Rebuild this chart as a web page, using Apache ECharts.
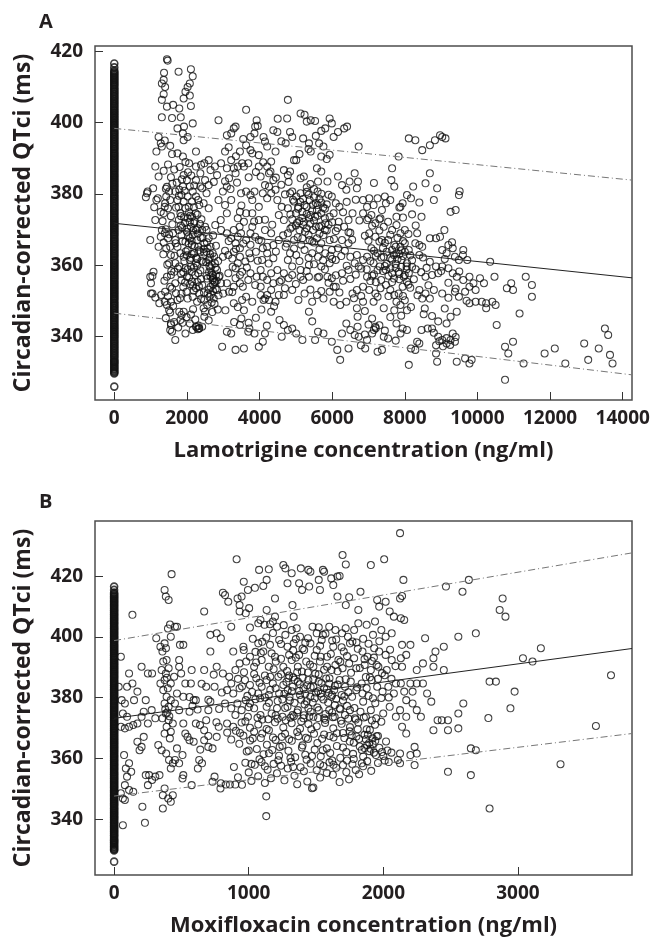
<!DOCTYPE html>
<html>
<head>
<meta charset="utf-8">
<script src="https://cdn.jsdelivr.net/npm/echarts@6/dist/echarts.min.js"></script>
<style>
	html, body { margin: 0; padding: 0; background: #fff; }
	#chart { width: 654px; height: 944px; }
</style>
</head>
<body>
<div id="chart"></div>
<script>
const lamTicks = [0, 2000, 4000, 6000, 8000, 10000, 12000, 14000];
const moxTicks = [0, 1000, 2000, 3000];
const qtTicks = [340, 360, 380, 400, 420];

// placebo (concentration 0) QTci values, same column in both panels
const placeboQtci = [
	326.0, 329.7, 330.0, 330.3, 330.7, 331.0, 331.4, 331.7, 332.1, 332.4, 332.8, 333.0, 333.3, 333.7,
	334.1, 334.5, 334.8, 335.2, 335.5, 335.9, 336.2, 336.6, 336.9, 337.3, 337.6, 338.0, 338.3, 338.7,
	339.0, 339.4, 339.8, 340.1, 340.5, 340.8, 341.2, 341.5, 341.9, 342.2, 342.6, 342.9, 343.3, 343.6,
	344.0, 344.4, 344.7, 345.1, 345.4, 345.8, 346.1, 346.5, 346.8, 347.2, 347.5, 347.9, 348.2, 348.6,
	348.9, 349.3, 349.6, 350.0, 350.4, 350.7, 351.1, 351.4, 351.8, 352.1, 352.5, 352.8, 353.2, 353.5,
	353.9, 354.2, 354.6, 354.9, 355.3, 355.6, 356.0, 356.4, 356.7, 357.1, 357.4, 357.8, 358.1, 358.5,
	358.8, 359.2, 359.5, 359.9, 360.2, 360.6, 360.9, 361.3, 361.6, 362.0, 362.4, 362.7, 363.1, 363.4,
	363.8, 364.1, 364.5, 364.8, 365.2, 365.5, 365.9, 366.2, 366.6, 366.9, 367.3, 367.6, 368.0, 368.4,
	368.7, 369.1, 369.4, 369.8, 370.1, 370.5, 370.8, 371.2, 371.5, 371.9, 372.2, 372.6, 372.9, 373.3,
	373.6, 374.0, 374.4, 374.7, 375.1, 375.4, 375.8, 376.1, 376.5, 376.8, 377.2, 377.5, 377.9, 378.2,
	378.6, 378.9, 379.3, 379.6, 380.0, 380.4, 380.7, 381.1, 381.4, 381.8, 382.1, 382.5, 382.8, 383.2,
	383.5, 383.9, 384.2, 384.6, 384.9, 385.3, 385.6, 386.0, 386.4, 386.7, 387.1, 387.4, 387.8, 388.1,
	388.5, 388.8, 389.2, 389.5, 389.9, 390.2, 390.6, 390.9, 391.3, 391.6, 392.0, 392.4, 392.7, 393.1,
	393.4, 393.8, 394.1, 394.5, 394.8, 395.2, 395.5, 395.9, 396.2, 396.6, 396.9, 397.3, 397.6, 398.0,
	398.4, 398.7, 399.1, 399.4, 399.8, 400.1, 400.5, 400.8, 401.2, 401.5, 401.9, 402.2, 402.6, 402.9,
	403.3, 403.6, 404.0, 404.4, 404.7, 405.1, 405.4, 405.8, 406.1, 406.5, 406.8, 407.2, 407.5, 407.9,
	408.2, 408.6, 408.9, 409.3, 409.6, 410.0, 410.4, 410.7, 411.1, 411.4, 411.8, 412.1, 412.5, 412.8,
	413.2, 413.5, 413.9, 414.2, 414.6, 415.5, 416.6
];

// panel A: [lamotrigine concentration (ng/ml), QTci (ms)]
const lamPoints = [
	[1450,417.8],[1470,417.4],[1370,414],[1360,412],[1310,411],[1400,410],[1360,408],[1310,406.4],[1450,404.5],[1620,405],
	[1310,401.5],[1590,401.3],[1770,414.3],[2110,415],[2160,413],[2080,411],[2020,410],[1960,408.7],[1910,406.8],[1790,404],
	[2080,407.6],[2110,404.7],[2160,399.8],[1830,401.5],[1920,398.9],[1740,398.4],[1890,397],[2020,396],[1910,395.1],[1220,396],
	[1280,394.2],[1390,395],[1310,393.3],[1540,393.5],[1590,391.2],[1740,391.4],[1890,390.5],[1960,389],[2060,388.6],[2250,391.9],
	[1160,391.9],[1130,387.7],[1220,384.9],[1070,381.6],[900,380.2],[870,379.1],[1200,378.8],[1100,376.3],[1130,372.7],[990,367.1],
	[1450,382],[1510,380.7],[1430,379.3],[1540,378.3],[1400,377.4],[1480,376],[1360,374.6],[1560,373.8],[1680,380.7],[1790,381.2],
	[1850,379.7],[1740,378.3],[1910,377.9],[1770,376.4],[1960,376],[1820,374.6],[2020,373.2],[2140,373.6],[2080,372.2],[2200,371.8],
	[2110,370.8],[2250,369.9],[2000,369.4],[2160,368.5],[2080,367.6],[2280,367.1],[1960,366.6],[2140,365.7],[2310,365.2],[2020,364.3],
	[2200,363.4],[2370,363.8],[1910,362.4],[2080,361.5],[2250,360.6],[2420,369.9],[2540,369.9],[2600,367.6],[2480,366.2],[2650,365.2],
	[2540,363.8],[2710,363.4],[2600,361.5],[2770,360.6],[2650,359.2],[2830,358.7],[2710,357.3],[2880,356.8],[2770,355.4],[2940,355],
	[2650,354],[2830,353.1],[2570,352.1],[2740,350.7],[2480,350.3],[2340,352.1],[2250,353.6],[2420,354.5],[2140,355.4],[2000,356.8],
	[1850,355.9],[1680,355],[1540,354],[1400,352.6],[1290,351.7],[1130,351],[1050,352.1],[1010,355],[1050,357],[1450,356.8],
	[1560,357.3],[1650,358.2],[1790,359.7],[1960,359.2],[2140,358.2],[2310,357.8],[1850,352.1],[2020,350.7],[2160,351.2],[2280,349.8],
	[1740,350.3],[1560,349.8],[1450,348.9],[1620,348.6],[1790,347],[1850,346.1],[1820,344.7],[1560,343.7],[1540,341.9],[1680,339.1],
	[1960,340.9],[2080,343.7],[2160,341.9],[2250,342.8],[2340,342.3],[2420,342.8],[2480,345.6],[2460,348],[2500,347],[2170,347.7],
	[2480,388.6],[2370,385.8],[2500,383.9],[2600,382.5],[2420,381.6],[2540,380.2],[2310,378.3],[2460,377.4],[2600,376],[2770,387.7],
	[2830,385.3],[2740,383.4],[2940,388.6],[2870,400.7],[3100,396.5],[3220,397],[3290,398.4],[3050,391.9],[3220,389.5],[3100,387.2],
	[3290,387.2],[3340,385.8],[3160,384.4],[3100,382.1],[2990,380.7],[2870,378.3],[3050,376.9],[3220,378.3],[3100,374.6],[2930,372.7],
	[2780,371.3],[2940,369.9],[3100,369],[3290,369.9],[3220,367.6],[3400,368],[3340,366.2],[3460,364.8],[3290,363.8],[3140,362.9],
	[2990,362.4],[3460,362.4],[3400,360.6],[3260,359.6],[3340,359.2],[3140,357.8],[3460,357.3],[3520,358.2],[3100,355],[3290,354],
	[3460,355],[3160,352.6],[3000,352.1],[3340,356.4],[3540,354],[3060,347.4],[3290,349.4],[3400,348.3],[3570,347.4],[3460,343.3],
	[3220,340.9],[3100,341.4],[2970,337.2],[3340,336.3],[3570,336.7],[3690,341.4],[3720,342.3],[3490,380.2],[3630,380.7],[3750,379.7],
	[3570,387.7],[3690,388.6],[3520,388.6],[3400,387.7],[3340,398.9],[3460,391.9],[3630,393.7],[3750,396],[3630,403.6],[3860,397],
	[3920,400.7],[3880,398.9],[3800,391.4],[3980,390.9],[3980,387.7],[3860,380.7],[3800,378.3],[3980,376.4],[3800,374.6],[3980,372.7],
	[3750,369],[3880,368],[3630,367.1],[3490,369],[4030,384.9],[4150,382.5],[4090,380.2],[4210,378.8],[4320,380.2],[4260,382.1],
	[4380,383.9],[4210,387.7],[4320,389.1],[4260,385.8],[4440,381.2],[4110,396],[4380,397.9],[4490,397.4],[4210,393.3],[4440,391.9],
	[4780,406.4],[4760,401.2],[4840,397.4],[4900,396],[4720,394.2],[4950,389.5],[4840,386.3],[4670,386.7],[4780,385.3],[5130,402.6],
	[5240,402.2],[5300,400.3],[5410,400.7],[5530,400.5],[5010,389.5],[5130,384.4],[5220,384.9],[5360,394.2],[5410,391.9],[5640,394.2],
	[5760,393.3],[5700,390.5],[5930,401.2],[5990,399.8],[5810,398.4],[5930,391],[6040,396],[6160,397.4],[6330,398.4],[6410,398.9],
	[5580,387.2],[5700,386.3],[5610,383.5],[5870,383.5],[5990,379.3],[6100,377.4],[6160,384.9],[4490,378.3],[4610,376.4],[4530,374.1],
	[4670,372.7],[4780,376],[4840,380.2],[4900,380.7],[5010,379.3],[5130,380.2],[4950,377.9],[5070,376.4],[5180,375],[5300,376.4],
	[5380,378.3],[5470,376.9],[5580,375.5],[5700,374.6],[5530,373.6],[5360,373.2],[5220,372.2],[5030,371.9],[4900,370.8],[5100,369.9],
	[5300,370.4],[5470,369.9],[5640,370.8],[5810,371.8],[5930,373.6],[6040,374.6],[6180,372.2],[6330,370.8],[6450,372.7],[6560,374.6],
	[4780,369],[4950,367.1],[5180,367.6],[5380,367.1],[5580,367.6],[5760,368.5],[5930,367.1],[5700,366.2],[4720,365.2],[4840,363.4],
	[5010,362.9],[5240,364.3],[5450,363.4],[5610,362.4],[5810,363.4],[5990,364.3],[6160,364.8],[6270,367.1],[6450,366.2],[6100,361.5],
	[5930,360.6],[5700,359.7],[5360,360.1],[5130,358.7],[4900,359.7],[4780,361.5],[4670,357.8],[4490,358.7],[4320,357.8],[4210,355.9],
	[4380,355],[4550,355.4],[4090,356.8],[3920,356.8],[4030,354],[4210,351.7],[4030,351.7],[4260,350.3],[4440,349.8],[4150,350.7],
	[4320,353.1],[4530,351.7],[4670,351.7],[4900,353.1],[5070,350.3],[5240,352.1],[5450,349.8],[5580,351.7],[5760,350.7],[5930,352.6],
	[6100,354],[6040,349.8],[6220,348.9],[6390,349.8],[6560,352.1],[6680,353.1],[5130,356.8],[5360,356.8],[5640,356.8],[5870,356.8],
	[5990,356.4],[6040,354],[6270,357.8],[6450,358.7],[6620,360.6],[6730,359.7],[6500,362.4],[6680,362.9],[6850,361.5],[6960,362.4],
	[4320,347],[4550,344.7],[4670,343.3],[4780,341.9],[4610,340],[4900,342.3],[5010,340.9],[5180,339.1],[5360,347],[5450,344.3],
	[5610,341.4],[5760,340.9],[5530,339.1],[5990,338.6],[6140,336.3],[6220,333.5],[6390,343.7],[6500,341.9],[6270,340.9],[6620,340.5],
	[6450,336.7],[6730,340],[6790,337.6],[6910,336.7],[6960,339.1],[7100,340.9],[7190,342.8],[7250,335.8],[7370,336.3],[7420,340],
	[7540,339.5],[4090,338.6],[3980,337.2],[4150,340.9],[3860,340.9],[6270,382.5],[6390,381.2],[6480,383.5],[6680,381.6],[6710,383.5],
	[6620,385.8],[6730,393.3],[6850,378.3],[7020,378.8],[6960,376.4],[7140,376.9],[7250,378.8],[7370,375.5],[7480,377.4],[7600,378.3],
	[7630,383.9],[7710,382.1],[7770,373.6],[7880,376.4],[7940,377.4],[7830,390.5],[8060,379.7],[8170,378.8],[8110,395.6],[8230,382.1],
	[6850,374.6],[6960,372.7],[7080,374.1],[7190,371.8],[7330,373.2],[7420,370.8],[7540,372.2],[7650,369.9],[7770,371.3],[7880,369],
	[8000,369.9],[7020,369],[7190,368],[7370,367.1],[7540,367.1],[7710,365.7],[7880,365.2],[8000,366.2],[8110,364.3],[7080,364.8],
	[7250,363.4],[7420,362.4],[7600,362],[7770,363.4],[7910,361.5],[8060,360.6],[7140,360.6],[7310,359.7],[7480,358.7],[7650,357.8],
	[7830,358.2],[7970,356.8],[8110,357.8],[6960,356.8],[6850,354],[7020,353.1],[7190,352.1],[7330,353.6],[7480,354.5],[7600,353.1],
	[7710,351.7],[7830,352.1],[7940,354],[8060,355.4],[7770,349.8],[7880,348.9],[8060,347.4],[8170,348.3],[7710,347.4],[7420,348],
	[7140,349.8],[6850,349.8],[6680,348],[7770,343.7],[7940,342.3],[7880,340.9],[8060,341.9],[8170,336.7],[8110,332.1],[8290,336.3],
	[8400,338.1],[8460,341.9],[8340,338.6],[8290,395.1],[8480,392.3],[8690,393.7],[8830,395.1],[9030,396],[9120,395.6],[8970,396.5],
	[8570,383],[8690,385.8],[8800,378.3],[8890,381.6],[9260,375],[9400,375.5],[9490,379.7],[9510,380.8],[8460,373.6],[8340,369],
	[8290,366.2],[8400,362.9],[8480,365.2],[8690,367.6],[8860,367.6],[8970,368],[9090,369.9],[9030,364.3],[9150,363.4],[9200,365.7],
	[9320,364.8],[9380,362.4],[9490,361.5],[9610,364.3],[9720,361.5],[8690,361],[8860,359.7],[9030,359.7],[8920,357.8],[8750,357.3],
	[8570,356.8],[9200,359.2],[9320,357.8],[9430,356.8],[9610,355.9],[9780,356.8],[9890,355],[10070,356.4],[10180,355],[10350,361],
	[10470,356.8],[9780,354],[9950,353.1],[9660,352.6],[9490,351.2],[9380,352.6],[8800,353.1],[9030,352.1],[8690,350.7],[8570,352.1],
	[8400,353.1],[8480,350.7],[9780,349.4],[9950,349.8],[10120,349.8],[10240,349.4],[10410,349.8],[10500,348.9],[10240,348],[9430,347],
	[8520,346.3],[8750,345.8],[9150,343.7],[8630,342.3],[8750,342.3],[8920,340],[8860,337.6],[9030,339.1],[9150,338.1],[9260,339.1],
	[9380,338.6],[9320,340.9],[8860,335.3],[8890,333],[9430,333],[9660,333.9],[9780,332.5],[9840,333.5],[8920,344.3],[9260,345.6],
	[10810,353.6],[10930,355],[10980,353.1],[11160,346.5],[11330,356.8],[11500,354.5],[11500,351.2],[10530,343.3],[10760,337.2],[10850,335.3],
	[10980,338.6],[10760,327.9],[11270,332.5],[11850,335.3],[12130,336.7],[12420,332.5],[12940,338.1],[13050,333.5],[13340,336.7],[13510,342.3],
	[13600,340.5],[13650,334.9],[13720,332.5],[990,356.8],[1080,358.2],[1010,352.1],[1240,349.4],[1390,349.8],[1510,347.4],[1560,343.3],
	[1590,341.4],[1910,347],[1310,369.9],[1280,368],[1390,369],[1480,367.6],[1360,366.4],[1220,365.2],[1430,364.8],[1540,365.2],
	[1680,367.1],[1620,369],[1770,369.9],[1850,368.5],[1740,365.2],[1560,362.9],[1510,360.6],[1680,360.6],[1820,363.4],[1390,376.4],
	[1280,375],[1160,378.3],[920,380.7],[3690,355.9],[3880,354.5],[3750,357.8],[4030,358.7],[4070,361.5],[4210,363.4],[4380,362],
	[4210,365.2],[4380,365.7],[4530,367.1],[4320,369],[4150,369.9],[3980,367.1],[4090,364.8],[3900,363.8],[3750,362],[3610,361.1],
	[3720,363.4],[3800,370.8],[3570,372.2],[3400,373.2],[3460,375],[3630,374.6],[4110,350.3],[3800,349.8],[3630,351.2],[3520,350.3],
	[2250,383.9],[2370,382.1],[2160,380.7],[2250,379.3],[2340,376.9],[2140,377.9],[2050,376.4],[2020,379.3],[2080,382.1],[2000,383.9],
	[1910,385.3],[1890,382.1],[2250,387.7],[2390,388.2],[2650,386.7],[2600,389.5],
	[1330,372.4],[1420,370.1],[1510,368.7],[1600,371.5],[1690,366.2],[1780,372.8],[1870,370.6],[1950,371.9],[2040,368.1],[2130,366.9],
	[2210,372.3],[2290,370.4],[2380,367.8],[2460,364.6],[2550,366.5],[2630,362.2],[2720,368.4],[2800,365.5],[1350,363.1],[1460,360.2],
	[1570,358.4],[1660,362.7],[1750,359.1],[1840,357.6],[1930,361.2],[2020,358.9],[2110,362.1],[2190,359.4],[2280,361.8],[2370,358.6],
	[2450,360.9],[2540,357.1],[2620,359.8],[2710,355.9],[2790,353.4],[2870,351.6],[1380,355.7],[1480,351.3],[1590,353.5],[1700,352.2],
	[1810,350.8],[1900,353.9],[1990,352.6],[2090,354.7],[2190,352.9],[2290,355.3],[2390,350.6],[2470,352.4],[2560,348.9],[2660,351.8],
	[2760,349.2],[2850,347.6],[1420,345.2],[1540,346.8],[1650,344.1],[1760,342.6],[1880,343.9],[1990,345.5],[2110,346.2],[2230,344.8],
	[2320,343.1],[2600,344.6],[2700,346.9],[2330,342.4],[2300,342.1],[2270,342.8],
	[1360,386.5],[1480,388.3],[1560,384.7],[1650,386.9],[1720,383.2],[1800,387.6],[1860,384.1],[1940,380.9],[2030,386.1],[2120,385.2],
	[2200,382.4],[1420,381.5],[1600,382.9],[1780,379.5],[1700,376.2],[1840,373.8],[2060,374.9],[2190,376.3],[2290,374.2],[2400,372.9],
	[3050,364.1],[3150,366.8],[3250,361.9],[3350,364.6],[3450,370.8],[3550,366.1],[3650,359.4],[3750,365.8],[3850,372.3],[3950,361.3],
	[4050,366.9],[4150,372.8],[4250,360.5],[4350,371.4],[4450,363.9],[3050,383.6],[3200,381.4],[3380,383.2],[3500,376.8],[3700,384.7],
	[3900,386.2],[4100,388.9],[4300,386.3],[4450,384.6],[3150,393.1],[3350,390.6],[3550,395.4],[3750,392.3],[3950,399.1],[4150,394.7],
	[4600,382.6],[4700,379.9],[4800,383.4],[4900,372.9],[5000,374.6],[5100,372.4],[5200,378.6],[5300,381.9],[5400,374.1],[5500,379.1],
	[5600,380.7],[5700,377.6],[5800,375.9],[5900,379.8],[6000,372.1],[6100,369.6],[6200,376.4],[6300,374.9],[6400,377.8],[6500,369.1],
	[4650,368.4],[4750,366.1],[4850,370.3],[4950,364.7],[5050,367.9],[5150,365.8],[5250,369.4],[5350,362.1],[5450,366.7],[5550,370.9],
	[5650,364.5],[5750,361.4],[5850,369.8],[5950,362.7],[6050,367.4],[6150,370.5],[6250,362.6],[6350,364.1],[6450,369.3],[6550,367.2],
	[4600,355.8],[4700,353.6],[4800,356.4],[4900,357.3],[5000,354.8],[5100,361.2],[5200,355.9],[5300,358.4],[5400,353.2],[5500,360.3],
	[5600,356.6],[5700,352.8],[5800,358.9],[5900,355.1],[6000,361.8],[6100,357.2],[6200,352.4],[6300,355.7],[6400,359.9],[6500,356.2],
	[6600,350.8],[6700,345.6],[6800,351.4],[6900,347.2],[6700,342.8],
	[5200,395.6],[5350,392.6],[5550,396.3],[5700,397.7],[5850,389.8],[5100,391.2],[4600,394.8],[4500,401.1],
	[6650,378.4],[6750,372.6],[6900,368.3],[7000,366.9],[7100,371.1],[7200,362.7],[7300,369.8],[7400,364.9],[7500,360.4],[7600,368.6],
	[7700,362.9],[7800,367.7],[7900,359.6],[8000,363.8],[8100,368.8],[8200,361.4],[8300,358.9],[8400,365.7],[8500,362.2],[8600,359.3],
	[6650,357.4],[6800,359.1],[6950,358.9],[7050,355.6],[7150,357.5],[7250,351.2],[7350,355.9],[7450,359.8],[7550,351.4],[7650,355.3],
	[7750,359.3],[7850,356.1],[7950,351.4],[8050,358.9],[8150,353.7],[8250,356.1],[8350,351.6],[8450,358.1],[8550,347.9],[8650,354.4],
	[7300,343.2],[7450,341.7],[7600,345.5],[7750,338.9],[7900,345.9],[8000,350.2],[7100,345.1],[7000,343.4],[6900,340.6],[7150,341.9],[7200,342.4],
	[7000,373.2],[7150,383.1],[7300,372.9],[7450,379.3],[7650,387.2],[7850,376.2],[7950,373.4],[8200,374.3],[8300,371.2],[8400,377.6],
	[9000,358.4],[9100,361.8],[9200,355.1],[9300,366.5],[9400,353.5],[9500,358.3],[9600,362.9],[9700,350.1],[9200,350.9],[9100,347.9],
	[1830,371.2],[1880,366.8],[1920,373.5],[1970,363.9],[2010,370.3],[2050,366.1],[2090,373.9],[2130,363.2],[2170,369.8],[2210,365.4],
	[2240,374.6],[2260,362.1],[2300,368.9],[2330,364.2],[2360,371.6],[2400,361.3],[2430,367.7],[2470,363.6],[2500,370.8],[2530,360.9],
	[2570,364.8],[2610,358.1],[2640,363.1],[2680,360.2],[2720,356.4],[2750,362.5],[2790,359.4],[2820,355.7],[2860,361.2],[2900,357.1],
	[2560,356.3],[2600,353.2],[2680,357.8],[2720,352.8],[2760,355.1],[2800,357.2],[2680,349.6],[2720,354.6],[2650,356.9],[2620,351.1],
	[1900,358.1],[1950,355.2],[2000,362.8],[2060,356.6],[2110,359.7],[2170,354.3],[2230,357.3],[2280,359.9],[2330,354.1],[2390,356.2],
	[4850,374.3],[4920,378.4],[5000,371.2],[5060,375.9],[5120,377.8],[5180,373.3],[5240,376.9],[5300,374.4],[5350,379.8],[5400,371.7],
	[5450,375.4],[5500,372.6],[5550,377.5],[5600,373.9],[5650,378.6],[5700,371.1],[5750,376.2],[5800,373.2],[5850,377.1],[5900,371.4],
	[5300,380.6],[5400,382.8],[5500,381.4],[5600,376.9],[5700,380.1],[5200,371.4],[5350,368.6],[5500,366.4],[5650,368.9],[5800,369.9],
	[7050,361.2],[7150,364.1],[7250,358.6],[7350,362.2],[7450,366.3],[7550,357.1],[7650,361.6],[7750,365.2],[7850,357.6],[7950,362.6],
	[8050,359.7],[8150,362.8],[7100,357.1],[7200,355.3],[7300,366.7],[7400,358.4],[7500,363.8],[7600,359.2],[7700,356.3],[7800,361.8],
	[7900,364.2],[8000,357.3],[8100,354.6],[8200,359.6],[7650,364.3],[7750,360.4],[7850,363.2],[7950,366.8],
	[8950,338.7],[9050,337.3],[9150,339.6],[9250,337.7],[8800,341.1],[9400,339.9],
	[3500,345.1],[3700,343.9],[3900,345.3],[4050,347.6],[4200,343.1],[4400,348.5],[3300,344.1],[3250,352.5]
];

// panel B: [moxifloxacin concentration (ng/ml), QTci (ms)]
const moxPoints = [
	[50,393.5],[34,383.6],[56,379.2],[80,378.1],[65,374.8],[96,373.7],[50,370.4],[80,369.9],[111,370.4],[142,371],
	[173,371.5],[74,361.1],[111,358.4],[87,356.7],[127,355.6],[96,354],[80,351.2],[111,349.6],[142,349],[65,346.8],
	[80,346.3],[50,348.5],[65,338],[136,407.3],[111,388],[96,383.6],[136,384.7],[173,382],[148,379.2],[204,390.2],
	[220,375.4],[204,373.7],[251,388],[282,388],[313,399.6],[235,379.2],[204,363.8],[173,365.5],[189,362.7],[220,367.1],
	[251,371.5],[279,375.9],[306,373.2],[210,344.1],[229,338.8],[251,351.2],[235,354.5],[260,354.5],[282,352.9],[306,354],
	[337,354.5],[362,347.9],[362,343.5],[402,346.8],[421,345.7],[436,347.9],[375,350.1],[328,364.4],[353,362.7],[387,361.6],
	[408,359.5],[421,356.7],[436,358.4],[452,359.5],[344,396.8],[359,395.2],[375,397.9],[365,391.9],[390,392.4],[353,389.1],
	[384,388],[405,389.7],[375,385.8],[344,384.7],[365,382.5],[399,383.1],[421,384.7],[390,380.3],[421,379.2],[375,378.1],
	[405,377],[384,374.8],[359,373.2],[405,372.6],[390,370.4],[421,368.8],[375,368.2],[414,366.6],[436,371.5],[452,378.1],
	[467,381.4],[446,386.9],[483,390.2],[375,415.5],[384,413.3],[405,412.2],[427,420.7],[452,403.4],[467,403.4],[421,400.1],
	[489,397.4],[514,397.4],[483,392.4],[498,388],[529,384.7],[514,380.3],[483,375.9],[514,371.5],[529,368.2],[467,363.3],
	[508,361.1],[483,358.4],[514,354.5],[508,353.4],[576,389.1],[570,384.7],[591,379.2],[582,377.3],[560,375.4],[607,379.2],
	[607,371.5],[545,367.1],[560,366],[591,365.5],[576,351.2],[632,359.5],[653,358.4],[622,356.7],[669,366],[638,371],
	[669,369.3],[684,372.6],[700,375.9],[715,378.7],[684,383.6],[669,389.1],[715,395.2],[762,390.2],[746,383.6],[700,363.8],
	[731,363.3],[762,367.1],[777,370.4],[746,354],[731,352.3],[793,351.8],[669,408.4],[715,400.7],[762,401.2],[793,399.6],
	[910,425.6],[808,414.6],[824,413.8],[848,411.6],[917,412.7],[947,413.3],[932,410.5],[932,408.4],[963,418.2],[994,415.5],
	[1003,409.5],[978,407.8],[1046,416.2],[1077,422.1],[1108,416.8],[1149,422.3],[1133,418.8],[1195,412.7],[1133,408.9],[1071,404.5],
	[1117,404],[1179,405.1],[1210,403.4],[1257,423.7],[1272,422.6],[1288,417.7],[1319,421],[1325,410.5],[1334,406.7],[1387,422.6],
	[1374,417.7],[1396,415.5],[1443,422.1],[1458,421.5],[1449,416.6],[1520,418.8],[1551,422.1],[1560,421.5],[1529,415.5],[1613,419.3],
	[1628,417.1],[1659,419.9],[1675,420.1],[1697,427],[1721,423.9],[1659,413.3],[1746,413.1],[1830,414.9],[1814,408.9],[1721,410.5],
	[1907,423.7],[2006,425.6],[2124,434.2],[2017,411.6],[1954,412.2],[1969,410],[2047,408.4],[2124,412.7],[2139,413.5],[2149,418.8],
	[2078,406.7],[2130,406.2],[2155,405.6],[2062,401.2],[2139,397.4],[2130,393],
	[870,403.4],[1009,403.1],[1087,405.6],[1158,404.2],[1195,406.7],[1272,400.7],[1319,402.3],[1356,402.9],[1381,400.1],[1474,403.4],
	[1505,401.2],[1551,400.7],[1598,403.4],[1644,402.3],[1693,401.2],[1737,400.1],[1783,402.3],[1814,404.5],[1876,404],[1923,400.7],
	[1985,402.3],[2017,400.1],[1938,405.1],
	[885,395.2],[963,395.7],[1009,393.5],[1071,397.9],[1108,395.2],[1158,397.4],[1195,393.5],[1226,399],[1288,396.8],[1334,397.9],
	[1374,394.1],[1412,395.7],[1458,397.9],[1505,395.7],[1542,399],[1582,393.5],[1628,396.8],[1666,392.4],[1706,395.2],[1752,397.9],
	[1783,393],[1845,395.2],[1882,393.5],[1932,396.3],[1969,395.2],[2017,394.1],[2062,392.4],[932,391.3],[981,391.9],[1040,390.2],
	[1096,392.4],[1149,390.2],[1201,391.9],[1257,390.2],[1319,392.4],[1365,390.2],[1427,391.9],[1480,390.2],[1529,391.9],[1582,390.2],
	[1644,390.8],[1697,389.7],[1746,391.3],[1799,389.7],[1861,390.8],[1907,389.1],[1963,390.2],[2025,389.1],
	[808,388],[855,386.9],[901,389.1],[870,384.7],[839,382.5],[885,381.4],[932,383.1],[972,385.8],[1009,384.2],[1056,386.4],
	[1096,383.6],[1133,385.8],[1179,384.7],[1220,386.9],[1257,384.2],[1294,386.4],[1325,383.6],[1365,385.3],[1406,383.1],[1443,385.8],
	[1480,383.6],[1520,385.3],[1560,383.1],[1598,384.7],[1635,382.5],[1675,385.8],[1715,383.6],[1758,385.3],[1799,382.5],[1839,384.7],
	[1876,383.1],[1913,385.8],[1954,383.6],[1994,382],[2037,383.6],[2078,381.4],[1071,381.4],[1149,380.9],[1226,381.4],[1303,380.3],
	[1381,380.9],[1458,380.3],[1536,381.4],[1613,380.3],[1690,380.9],[1768,380.3],[1845,381.4],[1923,379.8],[978,379.2],[1009,378.1],
	[824,378.1],[870,376.5],[916,378.1],[901,374.3],[947,375.9],[994,373.7],[1040,376.5],[1087,374.3],[1133,377],[1170,374.8],
	[1210,376.5],[1251,373.7],[1288,377],[1325,374.3],[1365,375.9],[1406,373.2],[1443,376.5],[1480,373.7],[1520,375.9],[1560,373.2],
	[1598,375.9],[1638,373.7],[1675,376.5],[1715,374.3],[1752,375.9],[1789,373.2],[1830,375.4],[1870,373.7],[1907,375.9],[1947,373.2],
	[1999,374.8],[2047,377],[2093,373.7],[839,371.5],[885,370.4],[947,371.8],[1009,370.1],[1071,371.2],[1133,369.7],[1195,371.9],
	[1257,370.2],[1319,371.6],[1381,369.8],[1443,371.3],[1505,370.6],[1567,371.7],[1628,369.9],[1690,371.4],[1752,370.3],[1814,371.8],
	[1876,369.6],[1938,371.1],
	[840,368.5],[870,366.2],[905,369.1],[930,364.8],[960,367.5],[985,362.3],[1010,365.9],[1040,368.8],[1060,363.1],[1090,366.7],
	[1110,361.4],[1135,364.5],[1150,369.3],[1175,362.8],[1200,366.1],[1225,360.9],[1250,364.2],[1270,368.1],[1295,362.5],[1320,365.8],
	[1345,360.4],[1370,367.3],[1395,363.6],[1420,361.2],[1440,366.4],[1465,369.6],[1490,362.9],[1510,365.1],[1535,360.7],[1560,367.9],
	[1580,363.3],[1605,361.8],[1630,366.9],[1655,364.1],[1680,360.2],[1700,368.4],[1725,362.1],[1750,365.6],[1775,361.5],[1800,367.2],
	[1825,363.9],[1850,360.6],[1870,366.3],[1895,362.4],[1920,364.7],[1945,361.1],[1970,363.5],[2000,360.8],[2030,362.6],[2060,361.9],
	[890,357.2],[920,353.8],[950,351.3],[975,358.6],[1000,355.4],[1020,352.6],[1045,357.9],[1070,354.1],[1095,358.8],[1120,351.9],
	[1140,356.3],[1165,353.5],[1185,358.2],[1210,355.1],[1240,357.6],[1265,352.8],[1290,356.7],[1315,358.9],[1340,354.3],[1360,351.5],
	[1385,357.1],[1410,355.8],[1435,352.4],[1460,358.3],[1480,350.4],[1505,356.1],[1530,353.7],[1555,357.5],[1580,355.2],[1600,358.7],
	[1625,354.6],[1650,356.9],[1675,352.2],[1700,357.8],[1725,355.5],[1745,353.1],[1770,358.1],[1795,356.2],[1820,354.8],[1850,357.4],
	[1880,359.1],[1910,355.9],[1960,358.5],[2010,359.3],[2040,358.8],[1130,347.5],[1130,341],[1470,350.2],[900,351.4],[860,351.4],
	[790,350.1],[830,351.4],
	[2170,394.1],[2201,397.4],[2139,390.2],[2130,384.7],[2155,382],[2093,384.7],[2201,384.7],[2248,384.7],[2294,384.7],[2217,382],
	[2170,379.2],[2124,375.9],[2170,373.7],[2139,370.4],[2170,368.2],[2217,378.1],[2248,375.9],[2279,373.7],[2248,389.1],[2232,363.8],
	[2248,361.6],[2232,357.8],[2201,361.1],[2124,361.6],[2108,359.5],[2124,358.4],[2310,399.6],[2294,391.3],[2372,393],[2387,395.2],
	[2449,396.8],[2372,390.2],[2449,389.1],[2325,381.4],[2356,378.7],[2372,369.3],[2403,372.6],[2434,372.6],[2480,372.6],[2480,369.3],
	[2480,355.6],[2465,416.6],[2557,400.1],[2588,414.9],[2635,418.8],[2594,378.1],[2557,374.8],[2557,369.9],[2650,363.3],[2687,362.7],
	[2650,354.5],[2687,401.2],[2789,385.3],[2836,385.3],[2780,373.3],[2789,343.5],[2864,408.9],[2886,412.7],[2907,406.7],[2975,382],
	[2944,376.5],[3037,393],[3108,391.9],[3170,396.3],[3316,358.1],[3579,370.7],[3691,387.4],
	[920,386.2],[965,388.4],[1025,381.9],[1055,391.6],[1085,379.8],[1120,387.3],[1160,382.6],[1185,389.4],[1215,378.9],[1240,392.8],
	[1265,381.3],[1285,388.8],[1305,379.1],[1330,386.7],[1350,393.2],[1375,382.2],[1395,388.6],[1415,377.8],[1435,384.1],[1455,390.9],
	[1475,378.4],[1495,387.9],[1515,382.1],[1535,393.5],[1555,379.4],[1575,386.3],[1595,381.6],[1615,389.1],[1640,377.6],[1660,384.3],
	[1680,391.8],[1700,379.1],[1720,386.1],[1740,381.8],[1760,388.2],[1785,376.6],[1805,383.4],[1825,389.8],[1850,378.7],[1870,386.8],
	[1890,380.6],[1915,392.1],[1940,378.2],[1960,386.2],[1985,379.9],[2010,387.4],[2040,380.1],
	[935,368.4],[975,372.2],[1030,366.6],[1065,373.4],[1100,368.2],[1145,372.9],[1180,366.9],[1215,373.1],[1245,367.1],[1275,372.6],
	[1300,366.3],[1335,373.9],[1360,368.7],[1390,372.2],[1425,366.8],[1450,373.8],[1485,368.1],[1515,373.3],[1545,366.5],[1570,372.7],
	[1600,367.4],[1625,373.6],[1655,368.3],[1685,372.4],[1710,366.7],[1740,373.1],[1765,367.6],[1795,372.8],[1820,366.4],[1855,373.5],
	[1885,367.8],[1915,372.5],[1950,367.3],[1985,372.1],
	[960,396.8],[1030,399.4],[1090,394.7],[1130,399.8],[1170,394.6],[1240,397.7],[1300,394.1],[1350,399.3],[1400,396.2],[1440,399.6],
	[1490,393.8],[1530,397.1],[1570,401.1],[1610,394.4],[1650,399.2],[1690,396.6],[1730,393.7],[1770,398.5],[1810,396.1],[1850,399.4],
	[1890,397.8],[1930,393.2],[1970,398.6],
	[1000,362.6],[1080,359.7],[1150,361.7],[1230,363.8],[1310,360.1],[1400,364.3],[1470,360.8],[1550,362.7],[1620,359.3],[1700,363.6],
	[1780,359.8],[1860,363.4],[1940,365.8],[1880,364.4],[1905,363.2],[1895,365.1],[1920,366.6],
	[380,376.2],[395,375.1],[410,373.9],[392,386.6],[385,396.3],[400,402.8],[415,404.1],
	[1280,385.2],[1300,387.3],[1320,382.1],[1340,385.9],[1360,388.4],[1380,384.4],[1400,386.6],[1420,381.3],[1440,388.3],[1460,383.5],
	[1480,386.1],[1500,381.7],[1520,387.7],[1540,384.8],[1560,389.2],[1580,382.8],[1600,386.4],[1620,380.9],[1640,383.9],[1660,388.7],
	[1250,379.4],[1270,376.6],[1290,382.5],[1310,373.4],[1340,378.3],[1360,375.1],[1390,379.3],[1410,374.2],[1430,378.8],[1460,375.4],
	[1490,379.8],[1510,376.8],[1540,380.3],[1570,374.6],[1590,378.4],[1620,375.1],[1650,379.6],[1680,376.2],[1710,380.4],[1730,377.3],
	[950,383.7],[990,380.6],[1040,387.8],[1080,384.9],[1120,380.1],[1160,386.9],[1200,383.1],[1240,387.7],
	[1000,376.9],[1050,379.5],[1100,372.8],[1150,378.3],[1200,374.2],
	[1750,368.9],[1780,365.2],[1810,369.6],[1840,362.8],[1860,367.8],[1900,369.4],[1930,361.9],[1960,367.4],[1990,362.1],[2020,365.6],
	[1050,395.1],[1100,398.4],[1180,401.3],[1260,403.9],[1330,395.6],[1420,398.1],[1520,403.2],[1620,398.8],[1720,402.9],[1800,398.2],
	[1860,392.7],[1900,386.7],[1950,390.8],[1990,388.1],[2050,395.8],[2060,386.2],[2090,390.4],
	[1020,358.2],[1120,357.4],[1220,359.4],[1330,357.2],[1430,359.6],[1530,358.1],[1630,357.9],[1730,359.3],[1840,358.4],
	[560,380.2],[620,376.1],[650,384.6],[700,379.3],[740,387.6],[780,376.3],[800,381.7],[760,371.9],[700,367.4],[640,362.9]
];

const lamFit = [[0, 371.8], [14256, 356.5]];
const lamUpper = [[0, 398.4], [14256, 383.9]];
const lamLower = [[0, 346.6], [14256, 329.3]];
const moxFit = [[0, 373.2], [3847, 396.2]];
const moxUpper = [[0, 398.8], [3847, 427.7]];
const moxLower = [[0, 347.6], [3847, 368.2]];

const FONT = '"Open Sans", sans-serif';
const TEXT_COLOR = '#231f20';

function valueAxis(gridIndex, min, max, ticks, name, nameGap, nameSize, isY) {
	return {
		type: 'value',
		gridIndex: gridIndex,
		min: min,
		max: max,
		name: name,
		nameLocation: 'middle',
		nameGap: nameGap,
		nameTextStyle: { fontFamily: FONT, fontWeight: 'bold', fontSize: nameSize, color: TEXT_COLOR },
		axisLine: { show: false, onZero: false },
		splitLine: { show: false },
		axisTick: { show: true, inside: true, length: 8, customValues: ticks, lineStyle: { color: '#333', width: 1 } },
		axisLabel: {
			customValues: ticks,
			formatter: v => String(v),
			fontFamily: FONT, fontWeight: 'bold', fontSize: 19, color: TEXT_COLOR,
			margin: isY ? 12 : 9
		}
	};
}

function scatter(axisIndex, data, size, stroke) {
	return {
		type: 'scatter',
		xAxisIndex: axisIndex,
		yAxisIndex: axisIndex,
		data: data,
		symbol: 'circle',
		symbolSize: size,
		silent: true,
		itemStyle: { color: 'rgba(0,0,0,0)', borderColor: '#111', borderWidth: stroke }
	};
}

function line(axisIndex, data, dashed) {
	return {
		type: 'line',
		xAxisIndex: axisIndex,
		yAxisIndex: axisIndex,
		data: data,
		symbol: 'none',
		silent: true,
		z: 3,
		lineStyle: dashed
			? { color: '#777', width: 1, type: [7, 3, 1, 3] }
			: { color: '#222', width: 1 }
	};
}

const placeboPoints = placeboQtci.map(v => [0, v]);

const chart = echarts.init(document.getElementById('chart'), null, { renderer: 'canvas' });
chart.setOption({
	animation: false,
	backgroundColor: '#fff',
	title: [
		{ text: 'A', left: 34, top: 7, textStyle: { fontFamily: FONT, fontWeight: 'bold', fontSize: 20, color: TEXT_COLOR } },
		{ text: 'B', left: 34, top: 487, textStyle: { fontFamily: FONT, fontWeight: 'bold', fontSize: 20, color: TEXT_COLOR } }
	],
	grid: [
		{ left: 95, top: 46, width: 537, height: 354, show: true, borderColor: '#4d4d4d', borderWidth: 1.5 },
		{ left: 95, top: 521, width: 537, height: 354, show: true, borderColor: '#4d4d4d', borderWidth: 1.5 }
	],
	xAxis: [
		valueAxis(0, -531, 14256, lamTicks, 'Lamotrigine concentration (ng/ml)', 40, 22, false),
		valueAxis(1, -142, 3847, moxTicks, 'Moxifloxacin concentration (ng/ml)', 40, 22, false)
	],
	yAxis: [
		valueAxis(0, 322.25, 421.5, qtTicks, 'Circadian-corrected QTci (ms)', 60, 23, true),
		valueAxis(1, 321.6, 438.2, qtTicks, 'Circadian-corrected QTci (ms)', 60, 23, true)
	],
	series: [
		scatter(0, lamPoints, 7, 1.05),
		scatter(0, placeboPoints, 7, 1.6),
		line(0, lamFit, false),
		line(0, lamUpper, true),
		line(0, lamLower, true),
		scatter(1, moxPoints, 7, 1.05),
		scatter(1, placeboPoints, 7, 1.6),
		line(1, moxFit, false),
		line(1, moxUpper, true),
		line(1, moxLower, true)
	]
});
</script>
</body>
</html>
